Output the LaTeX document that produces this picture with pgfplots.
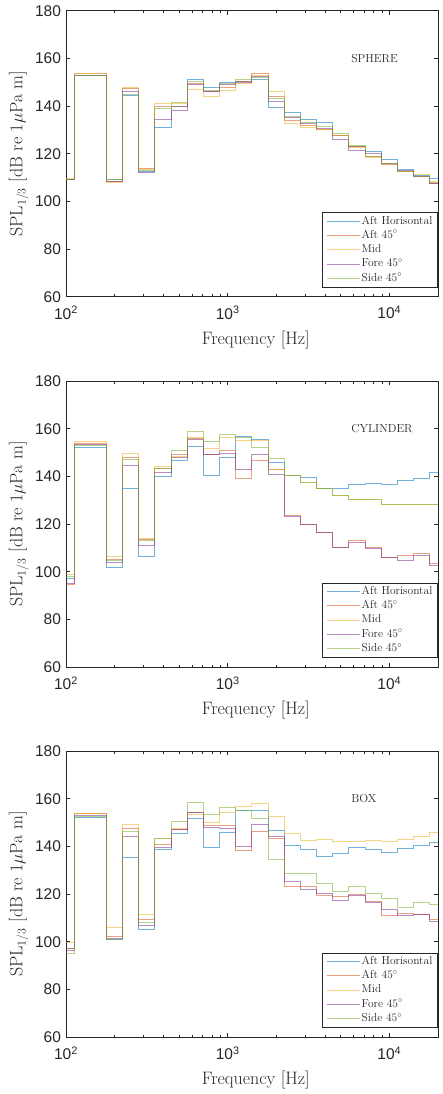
\documentclass[border=0pt]{standalone}
\usepackage{fontspec}
\setsansfont{Liberation Sans}
\usepackage{pgfplots}
\usepackage{pgfplotstable}
\pgfplotsset{compat=1.18}

\definecolor{mblue}{rgb}{0,0.447,0.741}
\definecolor{morange}{rgb}{0.85,0.325,0.098}
\definecolor{myellow}{rgb}{0.929,0.694,0.125}
\definecolor{mpurple}{rgb}{0.494,0.184,0.556}
\definecolor{mgreen}{rgb}{0.466,0.674,0.188}
\definecolor{axgray}{rgb}{0.15,0.15,0.15}

% 1/3-octave band edges; last row repeats the level to close the stairs
\pgfplotstableread{
f ah a45 mid f45 s45
89.1 109 109 109.5 109 109
112.2 153 153.5 153.5 153 153
141.3 153 153.5 153.5 153 153
177.8 109 108.5 108 108.5 109
223.9 144.5 147.5 148 146 145
281.8 112.5 114 113.5 112 113
354.8 131 140 141 134.5 139
446.7 140 140 141 138 141.5
562.3 151 149.5 147 149 150.5
707.9 148 146 144 146 146.5
891.3 150 148 146.5 149 149.5
1122 150.5 150.5 149.5 150 151
1413 151 153.5 153 152.5 152
1778 139.5 144 146 142 143
2239 137.5 134 132.5 135 135.5
2818 134.5 132 131 132.5 133
3548 133 130 130 130.5 131.5
4467 127.5 127.5 127.5 126 128.5
5623 123 123 122.5 121.5 123.5
7079 121 119 118.5 120 119
8913 117.5 115.5 116 116 116
11220 113.5 112.5 112.5 113 112.5
14125 111 110.5 111.5 110.5 110.5
17783 109.5 107.5 108.5 107.5 108
22387 109.5 107.5 108.5 107.5 108
}\spheredata

\pgfplotstableread{
f ah a45 mid f45 s45
89.1 97 94.5 99 95 98
112.2 152 154 154.5 153.5 153
141.3 152 154 154.5 153.5 153
177.8 101.6 105 106.3 104 104.6
223.9 135 148 149.5 144.5 147
281.8 106.3 113.5 114 111 113
354.8 140 143.5 144 141.5 143.5
446.7 146.5 149 148.5 148 151
562.3 152.5 156 156.5 155.5 159
707.9 140.5 149 151.5 149 154.5
891.3 148 151 156.5 149.5 157.5
1122 156.7 139 155 143 156.5
1413 155.5 146.5 155 149 152
1778 146 143 143 141 147.5
2239 140.5 123.5 140.5 123 140.5
2818 139.4 119.8 137.6 119.8 137.6
3548 134.8 116.3 135 116.3 135
4467 134.8 110.2 132 110 132
5623 136.8 112.9 130.4 112.2 130.4
7079 137.2 110 130.2 109.8 130.2
8913 136.6 106 128.4 105.8 128.4
11220 138.3 106.7 128 104.6 128
14125 139.3 107.7 128.2 106.7 128.2
17783 141.8 103.5 128.4 102.5 128.4
22387 141.8 103.5 128.4 102.5 128.4
}\cyldata

\pgfplotstableread{
f ah a45 mid f45 s45
89.1 97 97 99.5 96.5 95
112.2 152 154 154 153 152.5
141.3 152 154 154 153 152.5
177.8 101.1 102.1 106 101.5 101.1
223.9 135.5 147.5 149.2 144.2 146.2
281.8 105.3 109.5 111.4 107 108.1
354.8 138.6 141 143.5 139.5 143.5
446.7 145.3 147 147.5 147 150.5
562.3 151.5 154.4 153.5 154.2 158.5
707.9 139.7 148.7 150 148 153.5
891.3 146 148.7 154.4 147.4 156.5
1122 155.2 138.3 156.8 140.1 155
1413 155 146.4 158 149.1 151.8
1778 146.6 143.5 152.6 144.3 134.5
2239 140.4 123.3 145.6 125.1 128.8
2818 138.6 123.3 142.4 121.8 128.5
3548 135.9 119.2 142.8 120.3 124.3
4467 136.9 119.1 142.2 117.1 121
5623 139.5 119.8 142 119.6 123.3
7079 138.6 117 142.4 116.4 120.3
8913 137.5 111.2 142 113.7 118.2
11220 139 112 142.7 111.2 114.3
14125 140.4 111.5 144.2 111.4 116.3
17783 141.8 109.5 145.9 108.4 115.5
22387 141.8 109.5 145.9 108.4 115.5
}\boxdata

\pgfplotsset{
  legend image code/.code={\draw[#1, sharp plot] (0pt,0pt) -- (33pt,0pt);},
  every axis/.append style={
    width=372pt, height=286pt, scale only axis,
    anchor=north west,
    xmin=100, xmax=20000,
    ymin=60, ymax=180, ytick={60,80,...,180},
    xtick={100,1000,10000},
    xticklabels={10\textsuperscript{2},10\textsuperscript{3},10\textsuperscript{4}},
    tick align=inside,
    major tick length=4pt, minor tick length=2.5pt,
    axis line style={axgray, line width=0.5pt},
    every tick/.style={axgray, line width=0.5pt},
    ticklabel style={font=\fontsize{15.5}{17}\sffamily, text=axgray},
    xticklabel style={yshift=-6pt},
    yticklabel style={xshift=-1.5pt},
    xlabel={Frequency [Hz]},
    ylabel={SPL$_{1/3}$ [dB re 1$\mu$Pa m]},
    cycle list={
      {draw=mblue, draw opacity=0.55, line width=0.9pt},
      {draw=morange, draw opacity=0.55, line width=0.9pt},
      {draw=myellow, draw opacity=0.55, line width=0.9pt},
      {draw=mpurple, draw opacity=0.55, line width=0.9pt},
      {draw=mgreen, draw opacity=0.55, line width=0.9pt}},
    legend cell align=left,
    legend style={at={(axis description cs:0.999,0.033)}, anchor=south east,
      draw=axgray, line width=0.5pt, fill=white, inner xsep=4pt, inner ysep=1.5pt,
      font=\fontsize{11.5}{13}\selectfont, text=axgray,
      nodes={inner sep=1pt, text height=9pt, text depth=3.3pt}},
  },
  every axis x label/.style={at={(axis description cs:0.51,0)}, anchor=north,
    yshift=-34pt, inner sep=0pt, font=\fontsize{18}{21}\selectfont, text=axgray},
  every axis y label/.style={at={(axis description cs:-0.127,0.5)}, rotate=90,
    anchor=center, inner sep=0pt, font=\fontsize{18}{21}\selectfont, text=axgray},
}

\begin{document}
\begin{tikzpicture}
\path[use as bounding box] (-66pt,10.7pt) rectangle (377pt,-1083.3pt);

\begin{semilogxaxis}[at={(0pt,0pt)}, /pgf/number format/assume math mode=true]
  \addplot+[const plot] table[x=f, y=ah]{\spheredata};
  \addplot+[const plot] table[x=f, y=a45]{\spheredata};
  \addplot+[const plot] table[x=f, y=mid]{\spheredata};
  \addplot+[const plot] table[x=f, y=f45]{\spheredata};
  \addplot+[const plot] table[x=f, y=s45]{\spheredata};
  \legend{Aft Horisontal, Aft 45$^\circ$, Mid, Fore 45$^\circ$, Side 45$^\circ$}
  \node[anchor=west, inner sep=0pt, text=axgray, font=\fontsize{11.6}{13}\selectfont]
    at (axis cs:5810,160) {SPHERE};
\end{semilogxaxis}

\begin{semilogxaxis}[at={(0pt,-370.3pt)}, /pgf/number format/assume math mode=true]
  \addplot+[const plot] table[x=f, y=ah]{\cyldata};
  \addplot+[const plot] table[x=f, y=a45]{\cyldata};
  \addplot+[const plot] table[x=f, y=mid]{\cyldata};
  \addplot+[const plot] table[x=f, y=f45]{\cyldata};
  \addplot+[const plot] table[x=f, y=s45]{\cyldata};
  \legend{Aft Horisontal, Aft 45$^\circ$, Mid, Fore 45$^\circ$, Side 45$^\circ$}
  \node[anchor=west, inner sep=0pt, text=axgray, font=\fontsize{11.6}{13}\selectfont]
    at (axis cs:5810,160) {CYLINDER};
\end{semilogxaxis}

\begin{semilogxaxis}[at={(0pt,-740.3pt)}, /pgf/number format/assume math mode=true]
  \addplot+[const plot] table[x=f, y=ah]{\boxdata};
  \addplot+[const plot] table[x=f, y=a45]{\boxdata};
  \addplot+[const plot] table[x=f, y=mid]{\boxdata};
  \addplot+[const plot] table[x=f, y=f45]{\boxdata};
  \addplot+[const plot] table[x=f, y=s45]{\boxdata};
  \legend{Aft Horisontal, Aft 45$^\circ$, Mid, Fore 45$^\circ$, Side 45$^\circ$}
  \node[anchor=west, inner sep=0pt, text=axgray, font=\fontsize{11.6}{13}\selectfont]
    at (axis cs:5810,160) {BOX};
\end{semilogxaxis}
\end{tikzpicture}
\end{document}
